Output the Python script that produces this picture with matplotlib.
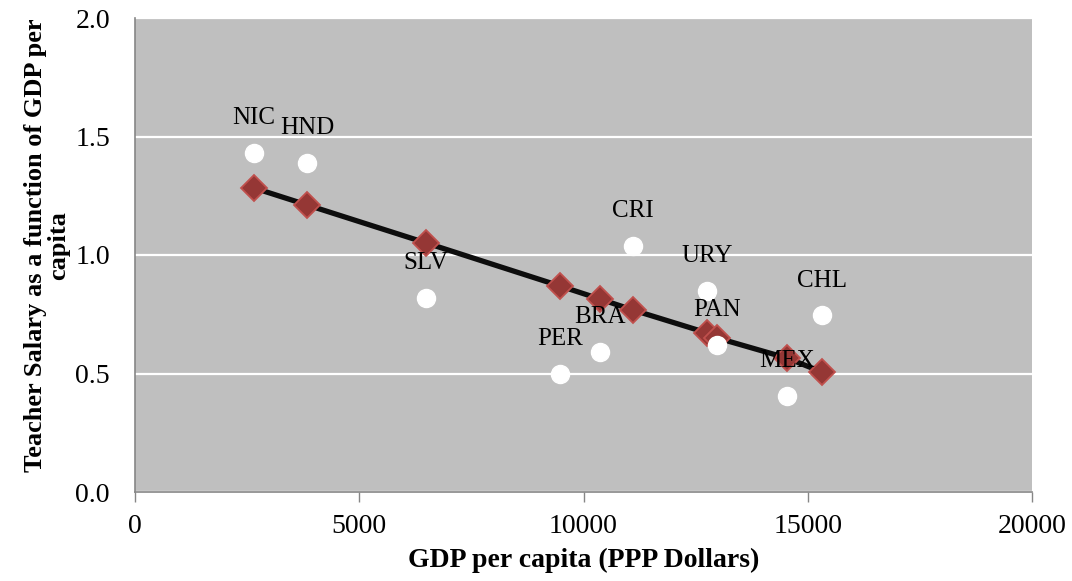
import matplotlib
matplotlib.use("Agg")
import matplotlib.pyplot as plt

# Country codes, GDP per capita (PPP $) and teacher salary relative to GDP per capita
countries = ["NIC", "HND", "SLV", "PER", "BRA", "CRI", "URY", "PAN", "MEX", "CHL"]
gdp = [2650, 3840, 6490, 9480, 10370, 11100, 12760, 12980, 14540, 15320]
salary_ratio = [1.43, 1.39, 0.82, 0.50, 0.59, 1.04, 0.85, 0.62, 0.405, 0.745]
# Linear trend values at each country's GDP
trend_ratio = [1.283, 1.211, 1.051, 0.869, 0.814, 0.768, 0.671, 0.650, 0.565, 0.506]

plt.rcParams["font.family"] = ["Liberation Serif", "DejaVu Serif"]

fig = plt.figure(figsize=(10.72, 5.81), dpi=100)
ax = fig.add_axes([135 / 1072, 1 - 492 / 581, 897 / 1072, 474 / 581])
ax.set_facecolor("#BFBFBF")

ax.set_xlim(0, 20000)
ax.set_ylim(0, 2.0)
ax.set_xticks([0, 5000, 10000, 15000, 20000])
ax.set_yticks([0.0, 0.5, 1.0, 1.5, 2.0])
ax.set_yticklabels([f"{v:.1f}" for v in [0.0, 0.5, 1.0, 1.5, 2.0]])

ax.grid(axis="y", color="white", linewidth=1.6, zorder=0)
ax.set_axisbelow(True)

for side in ("top", "right"):
    ax.spines[side].set_visible(False)
for side in ("left", "bottom"):
    ax.spines[side].set_color("#868686")
    ax.spines[side].set_linewidth(1.2)

ax.tick_params(axis="x", length=7, width=1, color="#868686", labelsize=20, pad=9)
ax.tick_params(axis="y", length=0, labelsize=20, pad=18)

# Trend line and fitted markers
ax.plot(gdp, trend_ratio, color="#0D0D0D", linewidth=3.8, zorder=2, solid_capstyle="butt")
ax.plot(gdp, trend_ratio, linestyle="none", marker="D", markersize=13,
        markerfacecolor="#953735", markeredgecolor="#C0504D", markeredgewidth=1.3, zorder=3)

# Observed values
ax.plot(gdp, salary_ratio, linestyle="none", marker="o", markersize=13,
        markerfacecolor="white", markeredgecolor="white", zorder=4)

for name, x, y in zip(countries, gdp, salary_ratio):
    ax.annotate(name, (x, y), xytext=(0, 25), textcoords="offset points",
                ha="center", va="center", fontsize=18, zorder=5)

ax.set_xlabel("GDP per capita (PPP Dollars)", fontsize=20, fontweight="bold", va="top")
ax.xaxis.set_label_coords(0.5, -0.118)
ax.set_ylabel("Teacher Salary as a function of GDP per\ncapita", fontsize=19,
              fontweight="bold", linespacing=1.0)
ax.yaxis.set_label_coords(-0.072, 0.52)

fig.savefig("out.png", dpi=100)
